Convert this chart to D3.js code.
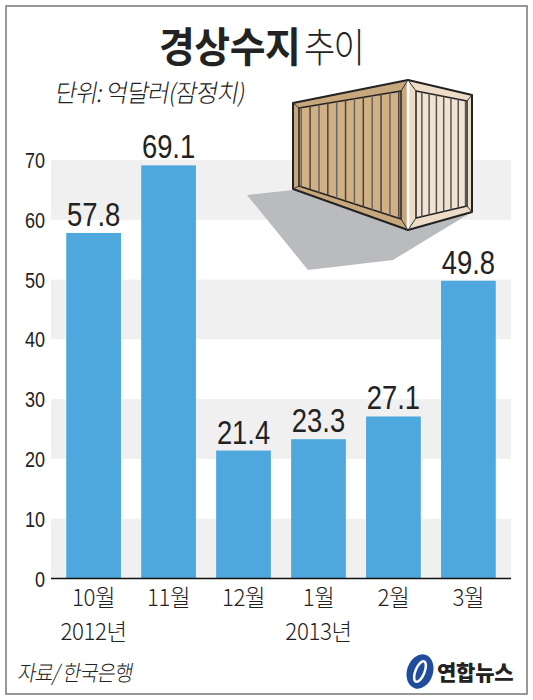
<!DOCTYPE html>
<html>
<head>
<meta charset="utf-8">
<script src="https://cdn.jsdelivr.net/npm/d3@7"></script>
<style>
  body { margin: 0; background: #fff; }
  svg { display: block; }
  text { font-family: "Liberation Sans", "Noto Sans CJK KR", sans-serif; fill: #222; }
  .kr { font-family: "Noto Sans CJK KR", sans-serif; }
</style>
</head>
<body>
<svg id="chart" width="533" height="700"></svg>
<script>
// data
var months = ["10월", "11월", "12월", "1월", "2월", "3월"];
var values = [57.8, 69.1, 21.4, 23.3, 27.1, 49.8];
var yTicks = [0, 10, 20, 30, 40, 50, 60, 70];
var bandStarts = [0, 20, 40, 60];
var years = [["2012년", "10월"], ["2013년", "1월"]];

var svg = d3.select("#chart");

// frame
svg.append("rect").attr("x", 6).attr("y", 6).attr("width", 521).attr("height", 688)
  .attr("fill", "#fff").attr("stroke", "#777").attr("stroke-width", 1.5);

var x = d3.scaleBand().domain(months).range([53.5, 508.5]).paddingInner(0.27).paddingOuter(0.17);
var y = d3.scaleLinear().domain([0, 70]).range([578.5, 160]);

// the original type is tall and narrow, so squeeze it sideways
function squeezed(px, py, sx, skew) {
  return "translate(" + px + "," + py + ")" + (skew ? " skewX(" + skew + ")" : "") + " scale(" + sx + ",1)";
}

// grey stripes
svg.selectAll(".band").data(bandStarts).enter().append("rect")
  .attr("class", "band")
  .attr("x", 51).attr("width", 460)
  .attr("y", d => y(d + 10))
  .attr("height", d => y(d) - y(d + 10))
  .attr("fill", "#f0f0f1");

// y axis
var yAxis = d3.axisLeft(y).tickValues(yTicks).tickSize(0).tickFormat("");
svg.append("g").attr("transform", "translate(51,0)").call(yAxis).select(".domain").remove();
svg.selectAll(".ytick").data(yTicks).enter().append("text")
  .attr("class", "ytick")
  .attr("transform", d => squeezed(45, y(d) + 8, 0.82))
  .attr("text-anchor", "end")
  .attr("font-size", 22)
  .attr("fill", "#333")
  .text(d => d);

// bars
svg.selectAll(".bar").data(values).enter().append("rect")
  .attr("class", "bar")
  .attr("x", (d, i) => x(months[i]))
  .attr("width", x.bandwidth())
  .attr("y", d => y(d))
  .attr("height", d => y(0) - y(d))
  .attr("fill", "#4ea7dd");

// value labels
svg.selectAll(".val").data(values).enter().append("text")
  .attr("class", "val")
  .attr("transform", (d, i) => squeezed(x(months[i]) + x.bandwidth() / 2, y(d) - 7, 0.83))
  .attr("text-anchor", "middle")
  .attr("font-size", 33)
  .attr("fill", "#1a1a1a")
  .text(d => d.toFixed(1));

// x axis
svg.append("line").attr("x1", 51).attr("x2", 511).attr("y1", 578.5).attr("y2", 578.5)
  .attr("stroke", "#111").attr("stroke-width", 1.5);

svg.selectAll(".month").data(months).enter().append("text")
  .attr("class", "month kr")
  .attr("transform", d => squeezed(x(d) + x.bandwidth() / 2, 606, 0.97))
  .attr("text-anchor", "middle")
  .attr("font-size", 23)
  .attr("font-weight", 300)
  .attr("letter-spacing", -0.4)
  .text(d => d);

svg.selectAll(".year").data(years).enter().append("text")
  .attr("class", "year kr")
  .attr("transform", d => squeezed(x(d[1]) + x.bandwidth() / 2, 640, 0.97))
  .attr("text-anchor", "middle")
  .attr("font-size", 23)
  .attr("font-weight", 300)
  .attr("letter-spacing", -0.4)
  .text(d => d[0]);

// title
svg.append("text").attr("class", "kr").attr("transform", squeezed(159, 62, 0.95))
  .attr("font-size", 41).attr("font-weight", 700).attr("letter-spacing", -0.5).attr("fill", "#111")
  .text("경상수지");
svg.append("text").attr("class", "kr").attr("transform", squeezed(304, 62, 0.85))
  .attr("font-size", 40).attr("font-weight", 300).attr("letter-spacing", -2)
  .text("추이");

// unit + source, slanted in the original
svg.append("text").attr("class", "kr").attr("transform", squeezed(54, 102, 0.95, -10))
  .attr("font-size", 25).attr("font-weight", 300).attr("letter-spacing", -1)
  .text("단위: 억달러(잠정치)");
svg.append("text").attr("class", "kr").attr("transform", squeezed(17, 681, 0.9, -10))
  .attr("font-size", 22).attr("font-weight", 300).attr("letter-spacing", -1)
  .text("자료/ 한국은행");

// shipping container illustration
var box = svg.append("g").attr("stroke-linejoin", "round");
function poly(pts, fill, stroke, w) {
  return box.append("polygon").attr("points", pts.join(" "))
    .attr("fill", fill).attr("stroke", stroke || "none").attr("stroke-width", w || 0);
}
poly([[247, 195], [293, 190], [408, 230], [472, 212], [393, 260], [308, 270]], "#b9bbbf");
poly([[293, 103], [408, 80], [408, 230], [293, 189]], "#c7a77c", "#222", 2);
poly([[408, 80], [472, 95], [472, 212], [408, 230]], "#ecdcc8", "#222", 2);
poly([[299, 108], [401, 91], [401, 219], [299, 186]], "#d1b184", "#222", 1.5);
poly([[416, 91], [467, 101], [467, 206], [416, 218]], "#f0e3d2", "#222", 1.5);
box.append("line").attr("x1", 408).attr("x2", 408).attr("y1", 81).attr("y2", 229).attr("stroke", "#fff").attr("stroke-width", 2.5);
[[293, 103, 299, 108], [408, 80, 401, 91], [408, 230, 401, 219], [293, 189, 299, 186],
 [408, 80, 416, 91], [472, 95, 467, 101], [472, 212, 467, 206], [408, 230, 416, 218]].forEach(function (s) {
  box.append("line").attr("x1", s[0]).attr("y1", s[1]).attr("x2", s[2]).attr("y2", s[3])
    .attr("stroke", "#333").attr("stroke-width", 1);
});
// ribs on the two faces
d3.range(0, 12).forEach(function (i) {
  var t = (i + 0.25) / 11.5;
  var px = 299 + t * 102;
  box.append("line").attr("x1", px).attr("x2", px)
    .attr("y1", 108 - t * 17).attr("y2", 186 + t * 33)
    .attr("stroke", i % 2 ? "#444" : "#666").attr("stroke-width", 1.5);
});
d3.range(0, 7).forEach(function (i) {
  var t = (i + 0.8) / 7;
  var px = 416 + t * 51;
  box.append("line").attr("x1", px).attr("x2", px)
    .attr("y1", 91 + t * 10).attr("y2", 218 - t * 12)
    .attr("stroke", "#555").attr("stroke-width", 1.5);
});

// logo
var logo = svg.append("g").attr("transform", "translate(420,671.5)");
logo.append("ellipse").attr("rx", 13).attr("ry", 17.5).attr("transform", "rotate(18)").attr("fill", "#1f4d9c");
logo.append("ellipse").attr("rx", 4.5).attr("ry", 11).attr("transform", "rotate(22)")
  .attr("fill", "none").attr("stroke", "#fff").attr("stroke-width", 2.5);
svg.append("text").attr("class", "kr").attr("x", 437).attr("y", 680)
  .attr("font-size", 21).attr("font-weight", 900).attr("letter-spacing", -0.2).attr("fill", "#222")
  .text("연합뉴스");
</script>
</body>
</html>
